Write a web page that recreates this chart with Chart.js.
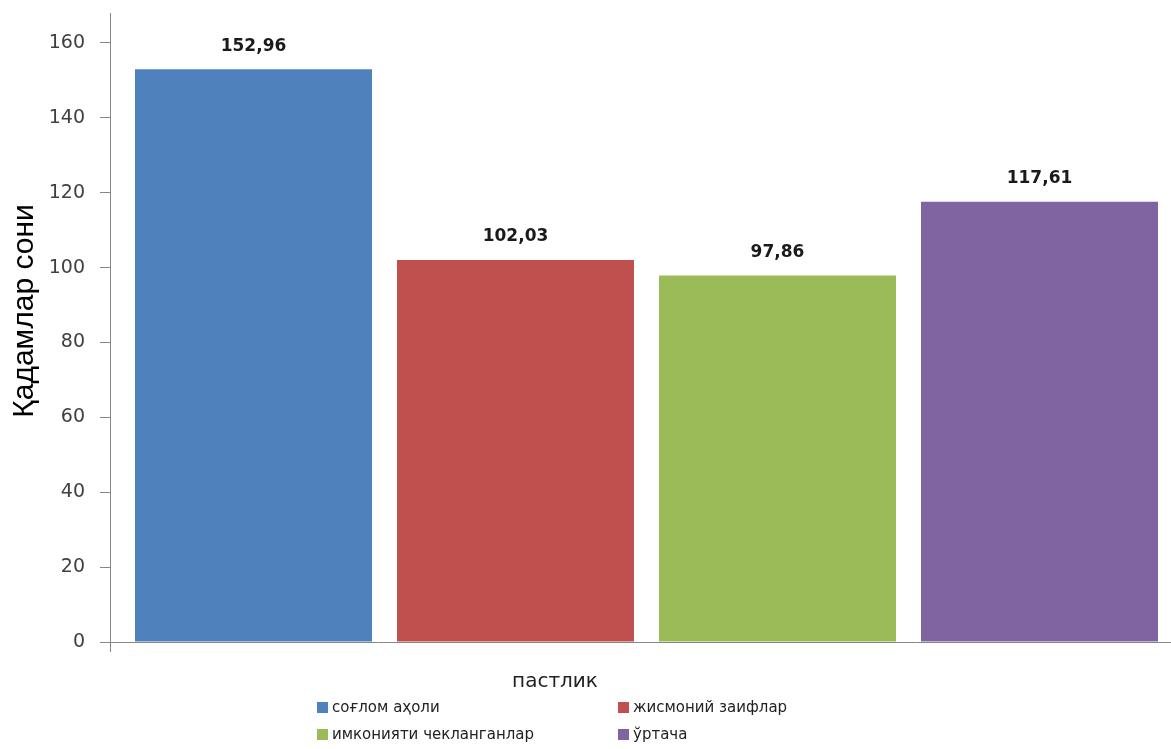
<!DOCTYPE html>
<html>
<head>
<meta charset="utf-8">
<script src="https://cdn.jsdelivr.net/npm/chart.js@4.4.1/dist/chart.umd.min.js"></script>
<style>
    html, body { margin: 0; padding: 0; background: #fff; overflow: hidden; }
    #wrap { width: 1183px; height: 749px; }
</style>
</head>
<body>
<div id="wrap"><canvas id="stepsChart"></canvas></div>
<script>
    const categories = ['пастлик'];
    const groupNames = ['соғлом аҳоли', 'жисмоний заифлар', 'имконияти чекланганлар', 'ўртача'];
    const stepValues = [152.96, 102.03, 97.86, 117.61];
    const groupColors = ['#4F81BD', '#C0504D', '#9BBB59', '#8064A2'];
    const yTicks = [0, 20, 40, 60, 80, 100, 120, 140, 160];
    const yTitle = 'Қадамлар сони';

    const axisColor = '#868686';

    // number with comma as decimal separator
    const fmt = v => v.toFixed(2).replace('.', ',');

    // value labels above every bar
    const valueLabels = {
        id: 'valueLabels',
        afterDatasetsDraw(chart) {
            const ctx = chart.ctx;
            ctx.save();
            ctx.font = 'bold 17px "DejaVu Sans"';
            ctx.fillStyle = '#1a1a1a';
            ctx.textAlign = 'center';
            ctx.textBaseline = 'middle';
            chart.data.datasets.forEach((ds, i) => {
                chart.getDatasetMeta(i).data.forEach((bar, j) => {
                    ctx.fillText(fmt(ds.data[j]), bar.x, bar.y - 23);
                });
            });
            ctx.restore();
        }
    };

    // y title, category name and the two column legend
    const extraText = {
        id: 'extraText',
        afterDraw(chart) {
            const ctx = chart.ctx;
            const area = chart.chartArea;
            ctx.save();

            ctx.save();
            ctx.translate(25, 311);
            ctx.rotate(-Math.PI / 2);
            ctx.font = '30px "Liberation Sans"';
            ctx.fillStyle = '#000';
            ctx.textAlign = 'center';
            ctx.textBaseline = 'middle';
            ctx.fillText(yTitle, 0, 0);
            ctx.restore();

            ctx.fillStyle = '#222';
            ctx.textAlign = 'center';
            ctx.textBaseline = 'middle';
            ctx.font = '20px "DejaVu Sans"';
            ctx.fillText(categories[0], 555, area.bottom + 40);

            ctx.font = '15px "DejaVu Sans"';
            ctx.textAlign = 'left';
            const cols = [317, 618];
            const rows = [area.bottom + 66, area.bottom + 93];
            chart.data.datasets.forEach((ds, i) => {
                const x = cols[i % 2];
                const y = rows[Math.floor(i / 2)];
                ctx.fillStyle = ds.backgroundColor;
                ctx.fillRect(x, y - 6, 11, 11);
                ctx.fillStyle = '#222';
                ctx.fillText(ds.label, x + 15, y);
            });
            ctx.restore();
        }
    };

    const ctx = document.getElementById('stepsChart');
    new Chart(ctx, {
        type: 'bar',
        data: {
            labels: categories,
            datasets: groupNames.map((name, i) => ({
                label: name,
                data: [stepValues[i]],
                backgroundColor: groupColors[i],
                borderWidth: 0
            }))
        },
        options: {
            responsive: true,
            maintainAspectRatio: false,
            animation: false,
            layout: { padding: { top: 13, bottom: 97, left: 0, right: 0 } },
            datasets: { bar: { categoryPercentage: 0.9767, barPercentage: 0.9046 } },
            plugins: {
                legend: { display: false },
                tooltip: { enabled: false }
            },
            scales: {
                x: {
                    ticks: { display: false },
                    grid: { drawOnChartArea: false, tickLength: 10, color: axisColor },
                    border: { color: axisColor }
                },
                y: {
                    min: 0,
                    max: 168,
                    afterBuildTicks: axis => { axis.ticks = yTicks.map(v => ({ value: v })); },
                    afterFit: scale => {
                        scale.width = 110;
                        scale.paddingTop = 0;
                        scale.paddingBottom = 0;
                    },
                    ticks: {
                        padding: 15,
                        color: '#404040',
                        font: { family: 'DejaVu Sans', size: 19 }
                    },
                    grid: { drawOnChartArea: false, tickLength: 10, color: axisColor },
                    border: { color: axisColor }
                }
            }
        },
        plugins: [valueLabels, extraText]
    });
</script>
</body>
</html>
